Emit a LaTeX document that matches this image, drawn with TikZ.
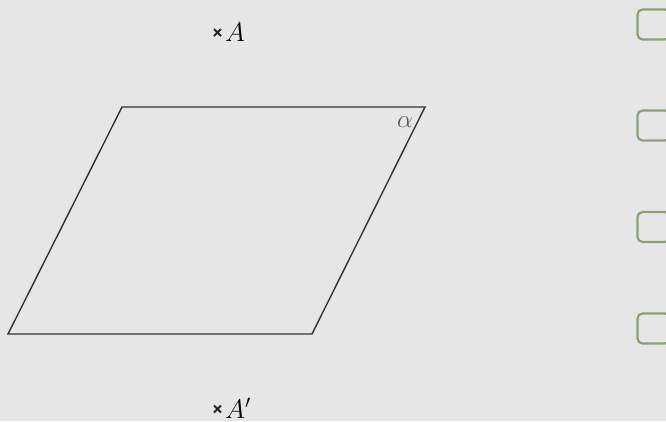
\RequirePackage{fix-cm}
\documentclass[tikz,border=0pt]{standalone}
\begin{document}
\begin{tikzpicture}[x=1pt,y=-1pt,
  plane/.style={draw=black!80,line width=1.4pt,line join=miter},
  checkbox/.style={draw=boxgreen,line width=2.2pt,rounded corners=5pt},
  crossmark/.style={draw=black!85,line width=1.8pt},
  lbl/.style={font=\fontsize{27}{32}\selectfont,inner sep=0pt}]
\definecolor{bg}{HTML}{E6E6E6}
\definecolor{boxgreen}{HTML}{8E9E7B}
\fill[bg] (0,0) rectangle (666,421);
\useasboundingbox (0,0) rectangle (666,421);
% parallelogram
\coordinate (p1) at (122,107);
\coordinate (p2) at (425,107);
\coordinate (p3) at (312,334);
\coordinate (p4) at (8,334);
\draw[plane] (p1) -- (p2) -- (p3) -- (p4) -- cycle;
\node[lbl,font=\fontsize{25}{30}\selectfont,text=black!65] (alpha) at (405,122.5) {$\alpha$};
% point A
\coordinate (A) at (217.5,32.5);
\draw[crossmark] ([shift={(-3.5,-3.5)}]A) -- ([shift={(3.5,3.5)}]A)
                 ([shift={(-3.5,3.5)}]A) -- ([shift={(3.5,-3.5)}]A);
\node[lbl,anchor=base west] (Alab) at (225,41) {$A$};
% point A'
\coordinate (Ap) at (217.5,409);
\draw[crossmark] ([shift={(-3.5,-3.5)}]Ap) -- ([shift={(3.5,3.5)}]Ap)
                 ([shift={(-3.5,3.5)}]Ap) -- ([shift={(3.5,-3.5)}]Ap);
\node[lbl,anchor=base west] (Aplab) at (225,418) {$A'$};
% checkboxes
\foreach \y [count=\i] in {9.5,110.5,212,313.5}
  \draw[checkbox] (637.5,\y) rectangle (670,\y+30);
\end{tikzpicture}
\end{document}
